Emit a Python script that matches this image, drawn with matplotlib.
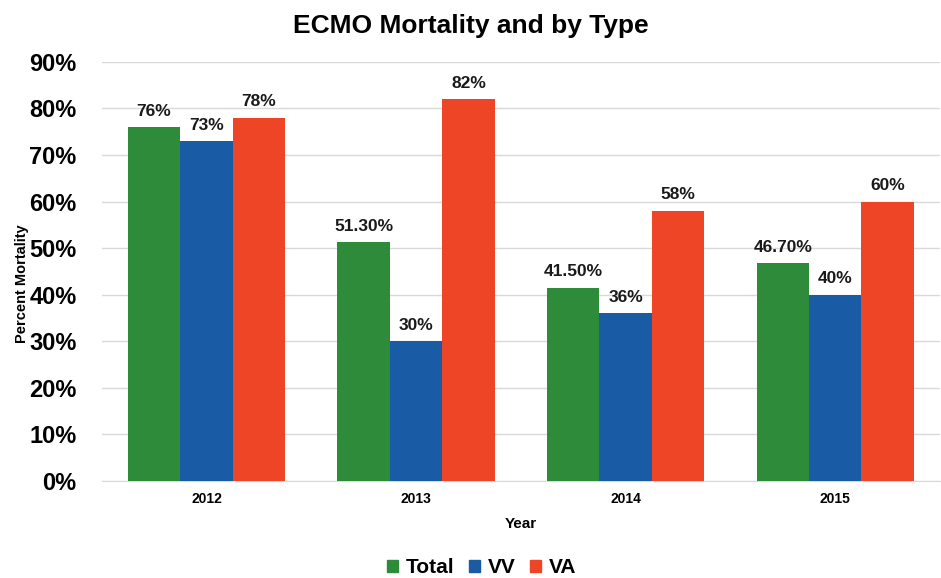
import matplotlib
matplotlib.use("Agg")
import matplotlib.pyplot as plt
import numpy as np

plt.rcParams['font.family'] = ['Liberation Sans', 'DejaVu Sans']

years = ["2012", "2013", "2014", "2015"]
series_names = ["Total", "VV", "VA"]
total = [76.0, 51.3, 41.5, 46.7]
vv = [73.0, 30.0, 36.0, 40.0]
va = [78.0, 82.0, 58.0, 60.0]
total_labels = ["76%", "51.30%", "41.50%", "46.70%"]
vv_labels = ["73%", "30%", "36%", "40%"]
va_labels = ["78%", "82%", "58%", "60%"]
colors = ["#2E8B3A", "#1A5BA6", "#EE4527"]

fig = plt.figure(figsize=(9.41, 5.78), dpi=100)
ax = fig.add_axes([0.108, 0.168, 0.891, 0.725])

x = np.arange(len(years))
w = 0.25
for i, (vals, labs) in enumerate([(total, total_labels), (vv, vv_labels), (va, va_labels)]):
    bars = ax.bar(x + (i - 1) * w, vals, w, color=colors[i], label=series_names[i], zorder=3)
    for b, lab in zip(bars, labs):
        ax.text(b.get_x() + b.get_width() / 2, b.get_height() + 1.8, lab,
                ha='center', va='bottom', fontsize=12.5, fontweight='bold', color='#1a1a1a')

ax.set_xlim(-0.5, 3.5)
ax.set_ylim(0, 90)
ax.set_yticks(np.arange(0, 91, 10))
ax.set_yticklabels([f"{v}%" for v in range(0, 91, 10)], fontsize=17, fontweight='bold')
ax.set_xticks(x)
ax.set_xticklabels(years, fontsize=10, fontweight='bold')
ax.tick_params(axis='both', length=0, pad=8)
ax.tick_params(axis='y', pad=18)
ax.yaxis.grid(True, color='#d9d9d9', linewidth=1, zorder=0)
for s in ['top', 'right', 'left']:
    ax.spines[s].set_visible(False)
ax.spines['bottom'].set_color('#d9d9d9')
ax.set_xlabel("Year", fontsize=11, fontweight='bold', labelpad=8)
ax.set_ylabel("Percent Mortality", fontsize=10.5, fontweight='bold')
ax.yaxis.set_label_coords(-0.087, 0.47)

fig.text(0.5, 0.955, "ECMO Mortality and by Type", ha='center', va='center',
         fontsize=19, fontweight='bold')

handles = [plt.Rectangle((0, 0), 1, 1, color=c) for c in colors]
fig.legend(handles, series_names, loc='center', bbox_to_anchor=(0.512, 0.018), ncol=3,
           frameon=False, prop={'size': 15, 'weight': 'bold'}, handlelength=0.5,
           handleheight=0.5, handletextpad=0.4, columnspacing=0.7)

fig.savefig("out.png", dpi=100)
